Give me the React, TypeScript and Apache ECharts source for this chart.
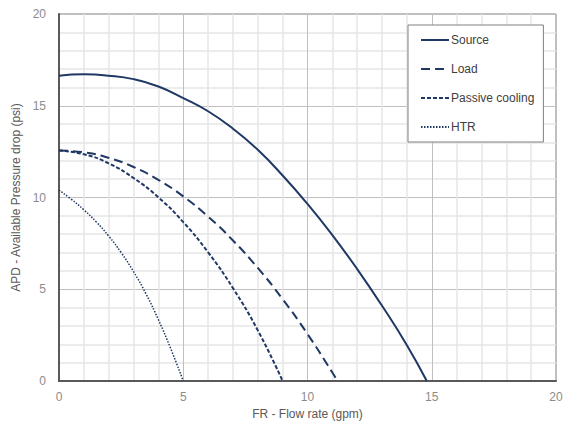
import React, { useEffect, useRef } from "react";
import * as echarts from "echarts";

const seriesNames = ["Source", "Load", "Passive cooling", "HTR"];

const sourceX = [0, 1, 2, 3, 4, 5, 6, 7, 8, 9, 10, 11, 12, 13, 14, 14.8];
const sourceY = [16.64, 16.71, 16.64, 16.45, 16.05, 15.42, 14.7, 13.75, 12.6, 11.2, 9.65, 7.95, 6.1, 4.1, 1.95, 0];

const loadX = [0, 1, 2, 3, 4, 5, 6, 7, 8, 9, 10, 11, 11.2];
const loadY = [12.56, 12.46, 12.16, 11.66, 10.96, 10.06, 8.96, 7.66, 6.16, 4.46, 2.56, 0.46, 0];

const passiveX = [0, 1, 2, 3, 4, 5, 6, 7, 8, 9];
const passiveY = [12.56, 12.36, 11.86, 11.06, 10.01, 8.66, 7.01, 5.06, 2.76, 0];

const htrX = [0, 0.5, 1, 1.5, 2, 2.5, 3, 3.5, 4, 4.5, 5];
const htrY = [10.4, 9.9, 9.33, 8.67, 7.9, 7.0, 5.96, 4.75, 3.34, 1.75, 0];

const xTicks = [0, 5, 10, 15, 20];
const yTicks = [0, 5, 10, 15, 20];

const xAxisTitle = "FR - Flow rate (gpm)";
const yAxisTitle = "APD - Available Pressure drop (psi)";

const pair = (xs: number[], ys: number[]) => xs.map((x, i) => [x, ys[i]]);

const LINE = "#1F3864";
const FONT = "Liberation Sans, Arial, sans-serif";

export default function App() {
  const ref = useRef<HTMLDivElement>(null);
  useEffect(() => {
    if (!ref.current) return;
    const chart = echarts.init(ref.current, null, { renderer: "svg" });
    const axisCommon = {
      type: "value" as const,
      interval: 5,
      axisLine: { show: true, lineStyle: { color: "#595959", width: 2 } },
      axisTick: { show: false },
      minorTick: { show: false, splitNumber: 5 },
      splitLine: { show: true, lineStyle: { color: "#bfbfbf", width: 1 } },
      minorSplitLine: { show: true, lineStyle: { color: "#e6e6e6", width: 1.5 } },
      nameLocation: "middle" as const,
      nameTextStyle: { color: "#595959", fontSize: 12, fontFamily: FONT },
    };
    const mk = (name: string, xs: number[], ys: number[], type: any, width: number) => ({
      name,
      type: "line",
      data: pair(xs, ys),
      smooth: 0.5,
      symbol: "none",
      showSymbol: false,
      lineStyle: { color: LINE, width, type },
      itemStyle: { color: LINE },
    });
    chart.setOption({
      animation: false,
      textStyle: { fontFamily: FONT },
      grid: {
        left: 59,
        right: 19,
        top: 14,
        bottom: 47,
        show: true,
        borderColor: "#808080",
        borderWidth: 1,
        backgroundColor: "#ffffff",
      },
      xAxis: {
        ...axisCommon,
        min: xTicks[0],
        max: xTicks[xTicks.length - 1],
        name: xAxisTitle,
        nameGap: 24,
        axisLabel: { color: "#8c8c8c", fontSize: 12, fontFamily: FONT, margin: 10 },
      },
      yAxis: {
        ...axisCommon,
        min: yTicks[0],
        max: yTicks[yTicks.length - 1],
        name: yAxisTitle,
        nameGap: 25,
        axisLabel: { color: "#8c8c8c", fontSize: 12, fontFamily: FONT, margin: 13 },
      },
      legend: {
        data: seriesNames,
        orient: "vertical",
        left: 408,
        top: 25,
        width: 138,
        itemWidth: 28,
        itemHeight: 14,
        itemGap: 15,
        padding: [8, 9, 8, 12],
        backgroundColor: "#ffffff",
        borderColor: "#808080",
        borderWidth: 1,
        itemStyle: { color: "rgba(0,0,0,0)", borderWidth: 0, opacity: 0 },
        textStyle: {
          color: "#404040",
          fontSize: 12,
          fontFamily: FONT,
          padding: [0, 0, 0, -3],
          lineHeight: 14,
        },
      },
      series: [
        mk(seriesNames[0], sourceX, sourceY, "solid", 2),
        mk(seriesNames[1], loadX, loadY, [9, 5], 2),
        mk(seriesNames[2], passiveX, passiveY, [4, 2], 2),
        mk(seriesNames[3], htrX, htrY, [1.5, 1.5], 1.5),
      ],
    });
    return () => chart.dispose();
  }, []);
  return (
    <div
      ref={ref}
      style={{ position: "fixed", left: 0, top: 0, width: 575, height: 428, background: "#fff" }}
    />
  );
}
